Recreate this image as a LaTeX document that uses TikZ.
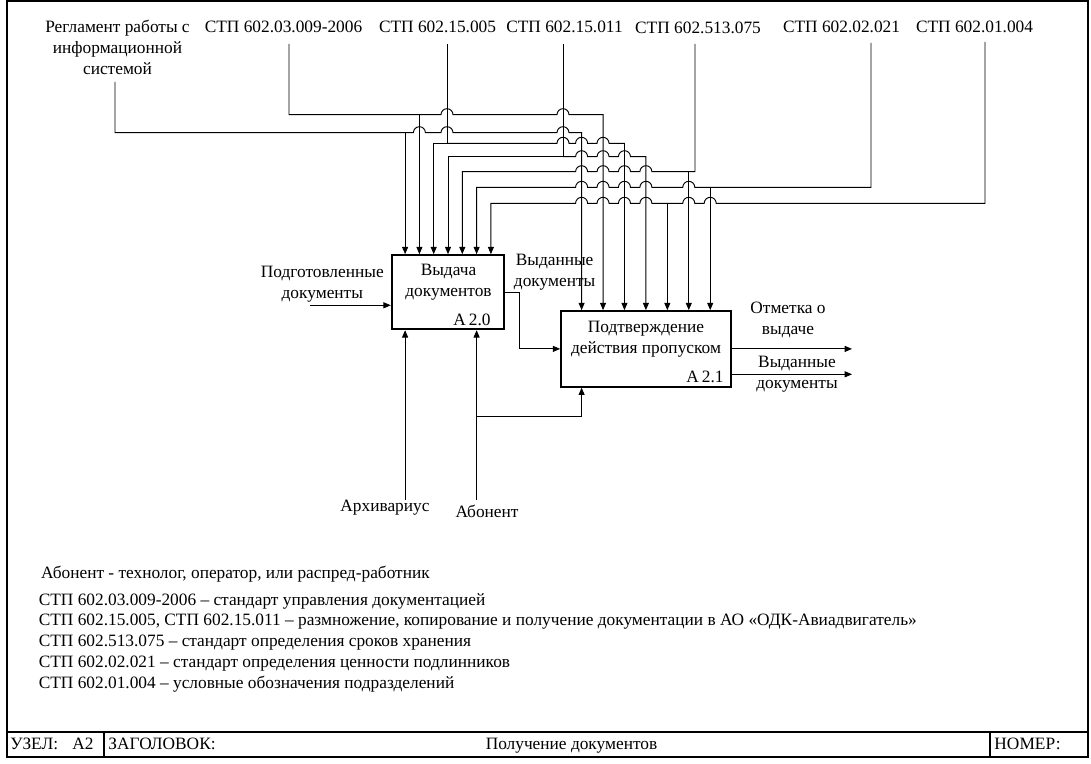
\documentclass[tikz,border=0pt]{standalone}
\usepackage{fontspec}
\setmainfont{Liberation Serif}
\usetikzlibrary{arrows.meta,calc}

\tikzset{
	func/.style={draw,line width=1.3pt},
	frame/.style={line width=1.5pt},
	hop/.style={to path={-- ([xshift=-4.5pt]\tikztotarget) arc[start angle=180,end angle=0,radius=4.5pt]}},
}

\begin{document}
\begin{tikzpicture}[x=0.75pt,y=-0.75pt,inner sep=0pt,line width=0.7pt,
	font=\fontsize{13pt}{15.5pt}\selectfont,>={Triangle[length=5.5pt,width=4.5pt]}]
	\useasboundingbox (0,0) rectangle (1091,763);
	%Frame
		\draw [frame] (7,1.5) rectangle (1088,756.5);
		\draw [frame] (7,732) -- (1088,732);
		\draw [frame] (104,732) -- (104,756.5);
		\draw [frame] (990,732) -- (990,756.5);
	%Boxes
		%Vydacha
		\node [func,minimum width=84.5pt,minimum height=55.7pt] (b1) at (448,292.2) {};
		\node [align=center] (b1txt) at (448.5,282) {Выдача\\документов};
		\node [anchor=east] (b1num) at (491,320) {A\,2.0};
		%Podtverzhdenie
		\node [func,minimum width=127.3pt,minimum height=56.8pt] (b2) at (645.9,348.9) {};
		\node [align=center] (b2txt) at (646,339.5) {Подтверждение\\действия пропуском};
		\node [anchor=east] (b2num) at (724,377) {A\,2.1};
		%Arrow points on top of boxes
		\foreach \i in {1,...,7} {
			\coordinate (b1t\i) at ($(b1.north west)!\i/8!(b1.north east)$);
			\coordinate (b2t\i) at ($(b2.north west)!\i/8!(b2.north east)$);
		}
	%Top labels
		\node [align=center] (s0) at (117.5,47.5) {Регламент работы с\\информационной\\системой};
		\node (s1) at (283.5,27) {СТП 602.03.009-2006};
		\node (s2) at (437.5,27) {СТП 602.15.005};
		\node (s3) at (564.5,27) {СТП 602.15.011};
		\node (s4) at (698,28) {СТП 602.513.075};
		\node (s5) at (841.5,27) {СТП 602.02.021};
		\node (s6) at (974.5,27) {СТП 602.01.004};
		%Line starts
		\coordinate (c0) at (115,82);
		\coordinate (c1) at (289,44);
		\coordinate (c2) at (447,44);
		\coordinate (c3) at (563,44);
		\coordinate (c4) at (695,44);
		\coordinate (c5) at (871,43);
		\coordinate (c6) at (985,42);
		%Levels
		\coordinate (h1) at (0,114.7);
		\coordinate (h2) at (0,132.7);
		\coordinate (h3) at (0,143.3);
		\coordinate (h4) at (0,156.7);
		\coordinate (h5) at (0,171.7);
		\coordinate (h6) at (0,187.3);
		\coordinate (h7) at (0,203.3);
	%Controls
		%Reglament
		\draw [->] (c0) |- (b1t1 |- h2) to[hop] (b1t2 |- h2) to[hop] (c2 |- h2) to[hop] (c3 |- h2) -| (b2t1);
		\draw [->] (b1t1 |- h2) -- (b1t1);
		%602.03.009-2006
		\draw [->] (c1) |- (b1t2 |- h1) to[hop] (c2 |- h1) to[hop] (c3 |- h1) -| (b2t2);
		\draw [->] (b1t2 |- h1) -- (b1t2);
		%602.15.005
		\draw [->] (c2) |- (b1t3 |- h3) -- (b1t3);
		\draw [->] (c2 |- h3) to[hop] (c3 |- h3) to[hop] (b2t1 |- h3) to[hop] (b2t2 |- h3) -| (b2t3);
		%602.15.011
		\draw [->] (c3) |- (b1t4 |- h4) -- (b1t4);
		\draw [->] (c3 |- h4) to[hop] (b2t1 |- h4) to[hop] (b2t2 |- h4) to[hop] (b2t3 |- h4) -| (b2t4);
		%602.513.075
		\draw [<-] (b1t5) -- (b1t5 |- h5) to[hop] (b2t1 |- h5) to[hop] (b2t2 |- h5) to[hop] (b2t3 |- h5) to[hop] (b2t4 |- h5) -| (c4);
		\draw [->] (b2t6 |- h5) -- (b2t6);
		%602.02.021
		\draw [<-] (b1t6) -- (b1t6 |- h6) to[hop] (b2t1 |- h6) to[hop] (b2t2 |- h6) to[hop] (b2t3 |- h6) to[hop] (b2t4 |- h6) to[hop] (b2t6 |- h6) -| (c5);
		\draw [->] (b2t7 |- h6) -- (b2t7);
		%602.01.004
		\draw [<-] (b1t7) -- (b1t7 |- h7) to[hop] (b2t1 |- h7) to[hop] (b2t2 |- h7) to[hop] (b2t3 |- h7) to[hop] (b2t4 |- h7) -- (b2t5 |- h7) to[hop] (b2t6 |- h7) to[hop] (b2t7 |- h7) -| (c6);
		\draw [->] (b2t5 |- h7) -- (b2t5);
	%Input
		\node [align=center] (inp) at (322.3,284.5) {Подготовленные\\документы};
		\coordinate (inpx) at (310,305.3);
		\draw [->] (inpx) -- (inpx -| b1.west);
	%Between boxes
		\node [align=center] (mid) at (554.6,272.5) {Выданные\\документы};
		\draw [->] (b1.east) -- ++(14,0) |- (b2.west);
	%Outputs
		\node [align=center] (out1) at (788,320) {Отметка о\\выдаче};
		\node [align=center] (out2) at (797,374.5) {Выданные\\документы};
		\coordinate (e1) at (852,349.3);
		\coordinate (e2) at (852,374.3);
		\draw [->] (b2.east) -- (b2.east -| e1);
		\draw [->] (e2 -| b2.east) -- (e2);
	%Mechanisms
		\node (arch) at (385,507.7) {Архивариус};
		\node (abon) at (487,511) {Абонент};
		\coordinate (h8) at (0,416.7);
		\draw [->] (arch.north -| b1t1) -- (b1t1 |- b1.south);
		\draw [->] (arch.north -| b1t6) -- (b1t6 |- b1.south);
		\draw [->] (b1t6 |- h8) -| (b2t1 |- b2.south);
	%Notes
		\node [anchor=west] (n0) at (40.7,574) {Абонент - технолог, оператор, или распред-работник};
		\node [anchor=west] (n1) at (38.3,601) {СТП 602.03.009-2006 – стандарт управления документацией};
		\node [anchor=west] (n2) at (38.3,621.7) {СТП 602.15.005, СТП 602.15.011 – размножение, копирование и получение документации в АО «ОДК-Авиадвигатель»};
		\node [anchor=west] (n3) at (38.3,643) {СТП 602.513.075 – стандарт определения сроков хранения};
		\node [anchor=west] (n4) at (38.3,664) {СТП 602.02.021 – стандарт определения ценности подлинников};
		\node [anchor=west] (n5) at (38.3,684) {СТП 602.01.004 – условные обозначения подразделений};
	%Bottom line
		\node [anchor=base west] (uzel) at (10,749.7) {УЗЕЛ:};
		\node [anchor=base west] (uzelnum) at (72,749.7) {A2};
		\node [anchor=base west] (head) at (108,749.7) {ЗАГОЛОВОК:};
		\node [anchor=base] (title) at (571.5,749.7) {Получение документов};
		\node [anchor=base west] (num) at (994,749.7) {НОМЕР:};
\end{tikzpicture}
\end{document}
